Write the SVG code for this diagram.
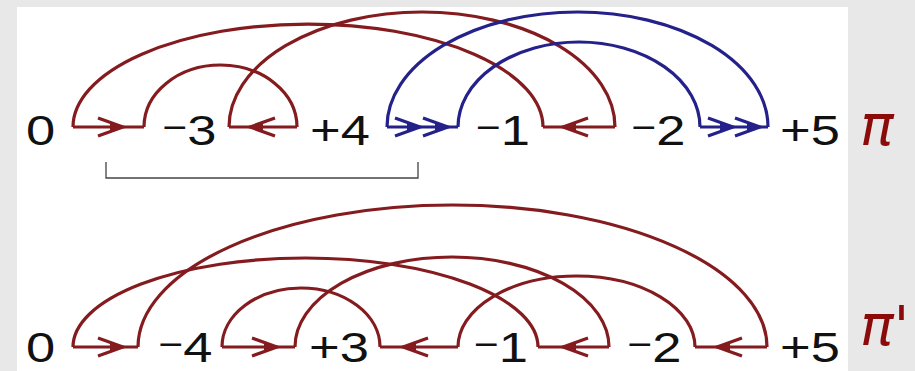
<svg xmlns="http://www.w3.org/2000/svg" xmlns:xlink="http://www.w3.org/1999/xlink" width="915" height="371" viewBox="0 0 915 371">
  <style>
    .bg { fill: #e8e8e8; }
    .panel { fill: #ffffff; }
    .lbl { font-family: "Liberation Sans", Arial, sans-serif; font-size: 42px; fill: #111111; text-anchor: middle; }
    .mn { font-size: 34px; }
    .pi { font-family: "DejaVu Sans", sans-serif; font-style: oblique; font-size: 56px; fill: #8b0a0a; }
    .r { stroke: #841b1e; fill: none; stroke-width: 3.2; }
    .b { stroke: #24218a; fill: none; stroke-width: 3.2; }
    .brk { stroke: #444444; fill: none; stroke-width: 1.3; }
  </style>
  <defs>
    <g id="ah">
      <path d="M-25,-9 L0,0 L-25,9" fill="none" stroke="currentColor" stroke-width="3.2"/>
      <path d="M-13,-4.5 L0,0 L-13,4.5 Z" fill="currentColor" stroke="none"/>
    </g>
  </defs>
  <rect class="bg" x="0" y="0" width="915" height="371"/>
  <rect class="panel" x="17" y="7" width="831" height="364"/>

  <g id="connectors">
    <!-- top row: pi -->
    <path class="r" d="M73,127 A235,103 0 0 1 543,127"/>
    <path class="r" d="M144,127 A76.5,62 0 0 1 297,127"/>
    <path class="r" d="M229,127 A193,115 0 0 1 615,127"/>
    <path class="b" d="M387,127 A190.5,115 0 0 1 768,127"/>
    <path class="b" d="M458,127 A121,85 0 0 1 700,127"/>
    <path class="r" d="M73,127 H144"/>
    <path class="r" d="M229,127 H297"/>
    <path class="b" d="M387,127 H458"/>
    <path class="r" d="M543,127 H615"/>
    <path class="b" d="M700,127 H768"/>
    <use xlink:href="#ah" href="#ah" color="#841b1e" transform="translate(123,127)"/>
    <use xlink:href="#ah" href="#ah" color="#841b1e" transform="translate(250,127) scale(-1,1)"/>
    <use xlink:href="#ah" href="#ah" color="#24218a" transform="translate(420,127)"/>
    <use xlink:href="#ah" href="#ah" color="#24218a" transform="translate(448,127)"/>
    <use xlink:href="#ah" href="#ah" color="#841b1e" transform="translate(563,127) scale(-1,1)"/>
    <use xlink:href="#ah" href="#ah" color="#24218a" transform="translate(733,127)"/>
    <use xlink:href="#ah" href="#ah" color="#24218a" transform="translate(760,127)"/>
    <!-- bracket -->
    <path class="brk" d="M106,162 V178 H418 V162"/>

    <!-- bottom row: pi' -->
    <path class="r" d="M73,347 A232.5,89 0 0 1 538,347"/>
    <path class="r" d="M138,347 A314.5,142 0 0 1 767,347"/>
    <path class="r" d="M222,347 A79,59 0 0 1 380,347"/>
    <path class="r" d="M295,347 A157,90 0 0 1 609,347"/>
    <path class="r" d="M458,347 A118.5,71 0 0 1 695,347"/>
    <path class="r" d="M73,347 H138"/>
    <path class="r" d="M222,347 H295"/>
    <path class="r" d="M380,347 H458"/>
    <path class="r" d="M538,347 H609"/>
    <path class="r" d="M695,347 H767"/>
    <use xlink:href="#ah" href="#ah" color="#841b1e" transform="translate(123,347)"/>
    <use xlink:href="#ah" href="#ah" color="#841b1e" transform="translate(277,347)"/>
    <use xlink:href="#ah" href="#ah" color="#841b1e" transform="translate(403,347) scale(-1,1)"/>
    <use xlink:href="#ah" href="#ah" color="#841b1e" transform="translate(563,347) scale(-1,1)"/>
    <use xlink:href="#ah" href="#ah" color="#841b1e" transform="translate(717,347) scale(-1,1)"/>
  </g>

  <g id="pi-row">
    <g id="n-top-0"><text class="lbl" transform="translate(40.5,145) scale(1.25,1)">0</text></g>
    <g id="n-top-m3"><text class="lbl" transform="translate(189.5,145) scale(1.25,1)"><tspan class="mn" dy="-6">−</tspan><tspan dy="6">3</tspan></text></g>
    <g id="n-top-p4"><text class="lbl" transform="translate(340,145) scale(1.25,1)">+4</text></g>
    <g id="n-top-m1"><text class="lbl" transform="translate(503,145) scale(1.25,1)"><tspan class="mn" dy="-6">−</tspan><tspan dy="6">1</tspan></text></g>
    <g id="n-top-m2"><text class="lbl" transform="translate(658.5,145) scale(1.25,1)"><tspan class="mn" dy="-6">−</tspan><tspan dy="6">2</tspan></text></g>
    <g id="n-top-p5"><text class="lbl" transform="translate(810,145) scale(1.25,1)">+5</text></g>
    <g id="lbl-pi"><text class="pi" x="860" y="145">π</text></g>
  </g>

  <g id="pi-prime-row">
    <g id="n-bot-0"><text class="lbl" transform="translate(40.5,362) scale(1.25,1)">0</text></g>
    <g id="n-bot-m4"><text class="lbl" transform="translate(185.5,362) scale(1.25,1)"><tspan class="mn" dy="-6">−</tspan><tspan dy="6">4</tspan></text></g>
    <g id="n-bot-p3"><text class="lbl" transform="translate(339,362) scale(1.25,1)">+3</text></g>
    <g id="n-bot-m1"><text class="lbl" transform="translate(501,362) scale(1.25,1)"><tspan class="mn" dy="-6">−</tspan><tspan dy="6">1</tspan></text></g>
    <g id="n-bot-m2"><text class="lbl" transform="translate(654.5,362) scale(1.25,1)"><tspan class="mn" dy="-6">−</tspan><tspan dy="6">2</tspan></text></g>
    <g id="n-bot-p5"><text class="lbl" transform="translate(810,362) scale(1.25,1)">+5</text></g>
    <g id="lbl-pi-prime"><text class="pi" x="860" y="345">π'</text></g>
  </g>
</svg>
